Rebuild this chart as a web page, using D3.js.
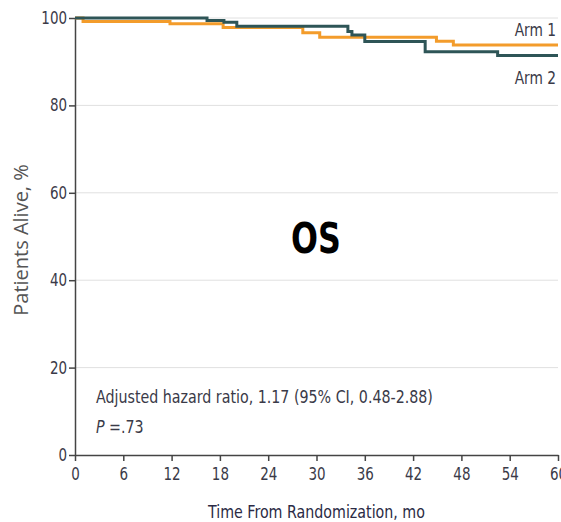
<!DOCTYPE html>
<html>
<head>
<meta charset="utf-8">
<script src="https://cdn.jsdelivr.net/npm/d3@7"></script>
<style>
  body { margin: 0; background: #fff; }
  text { font-family: "DejaVu Sans Condensed", "DejaVu Sans", sans-serif; font-stretch: condensed; fill: #3a3a48; }
</style>
</head>
<body>
<div id="chart"></div>
<script>
// values
const arm1Time = [0, 1, 11.8, 18.4, 28.3, 30.4, 44.9, 47.0, 60];
const arm1Surv = [100, 99.2, 98.7, 97.8, 96.6, 95.6, 94.7, 93.8, 93.8];
const arm2Time = [0, 16.4, 18.5, 20.1, 33.9, 34.4, 36.0, 43.5, 52.5, 60];
const arm2Surv = [100, 99.4, 99.0, 98.1, 96.9, 96.1, 94.6, 92.3, 91.4, 91.4];
const xTicks = [0, 6, 12, 18, 24, 30, 36, 42, 48, 54, 60];
const yTicks = [0, 20, 40, 60, 80, 100];

let width = 561, height = 522;
let margin = { left: 75, top: 18, right: 3, bottom: 67 };

let svg = d3.select('#chart').append('svg')
  .attr('width', width)
  .attr('height', height);

let x = d3.scaleLinear().domain([0, 60]).range([margin.left, width - margin.right]);
let y = d3.scaleLinear().domain([0, 100]).range([height - margin.bottom, margin.top]);

// narrow text: the source font is a tall condensed face
function narrowText(px, py, sx, size, anchor) {
  return svg.append('text')
    .attr('transform', 'translate(' + px + ',' + py + ') scale(' + sx + ',1)')
    .attr('text-anchor', anchor || 'start')
    .style('font-size', size + 'px');
}

// gridlines
svg.append('g')
  .selectAll('line')
  .data(yTicks.filter(d => d > 0))
  .enter().append('line')
  .attr('x1', x(0)).attr('x2', x(60))
  .attr('y1', d => y(d)).attr('y2', d => y(d))
  .attr('stroke', '#e0e0e0').attr('stroke-width', 1);

let xAxis = d3.axisBottom(x).tickValues(xTicks).tickSize(6).tickSizeOuter(0);
let yAxis = d3.axisLeft(y).tickValues(yTicks).tickSize(6).tickSizeOuter(0);

let gx = svg.append('g')
  .attr('transform', 'translate(0,' + y(0) + ')')
  .call(xAxis);
let gy = svg.append('g')
  .attr('transform', 'translate(' + x(0) + ',0)')
  .call(yAxis);

[gx, gy].forEach(g => {
  g.select('.domain').attr('stroke', '#444').attr('stroke-width', 1.5);
  g.selectAll('.tick line').attr('stroke', '#444').attr('stroke-width', 1.5);
  g.selectAll('.tick text').style('font-size', '17px').attr('fill', '#3a3a48')
    .style('font-family', '"DejaVu Sans Condensed", "DejaVu Sans", sans-serif');
});
gx.selectAll('.tick text').attr('dy', '0.92em').attr('x', 0)
  .attr('transform', 'scale(0.88,1)');
gy.selectAll('.tick text').attr('x', -8 / 0.88).attr('transform', 'scale(0.88,1)');

// curves
let line = d3.line()
  .x(d => x(d[0]))
  .y(d => y(d[1]))
  .curve(d3.curveStepAfter);

let arm1 = arm1Time.map((t, i) => [t, arm1Surv[i]]);
let arm2 = arm2Time.map((t, i) => [t, arm2Surv[i]]);

svg.append('path').datum(arm1)
  .attr('d', line).attr('fill', 'none')
  .attr('stroke', '#f39c2b').attr('stroke-width', 3);
svg.append('path').datum(arm2)
  .attr('d', line).attr('fill', 'none')
  .attr('stroke', '#2e5557').attr('stroke-width', 3);

// curve labels
narrowText(556, 36, 0.85, 18, 'end').text('Arm 1');
narrowText(556, 84, 0.85, 18, 'end').text('Arm 2');

// panel title
narrowText(316, 253, 0.84, 42, 'middle')
  .style('font-weight', 'bold').style('fill', '#000')
  .text('OS');

// annotation
narrowText(96, 403, 0.88, 18)
  .text('Adjusted hazard ratio, 1.17 (95% CI, 0.48-2.88)');
let p = narrowText(96, 433, 0.88, 18);
p.append('tspan').style('font-style', 'italic').text('P');
p.append('tspan').text(' =.73');

// axis titles
narrowText(x(30), 518, 0.88, 18, 'middle')
  .style('fill', '#2b2b45')
  .text('Time From Randomization, mo');

svg.append('text')
  .attr('transform', 'translate(28,240) rotate(-90)')
  .attr('text-anchor', 'middle')
  .style('font-family', '"Open Sans", sans-serif')
  .style('font-stretch', 'normal')
  .style('font-size', '20px').style('fill', '#555')
  .text('Patients Alive, %');
</script>
</body>
</html>
